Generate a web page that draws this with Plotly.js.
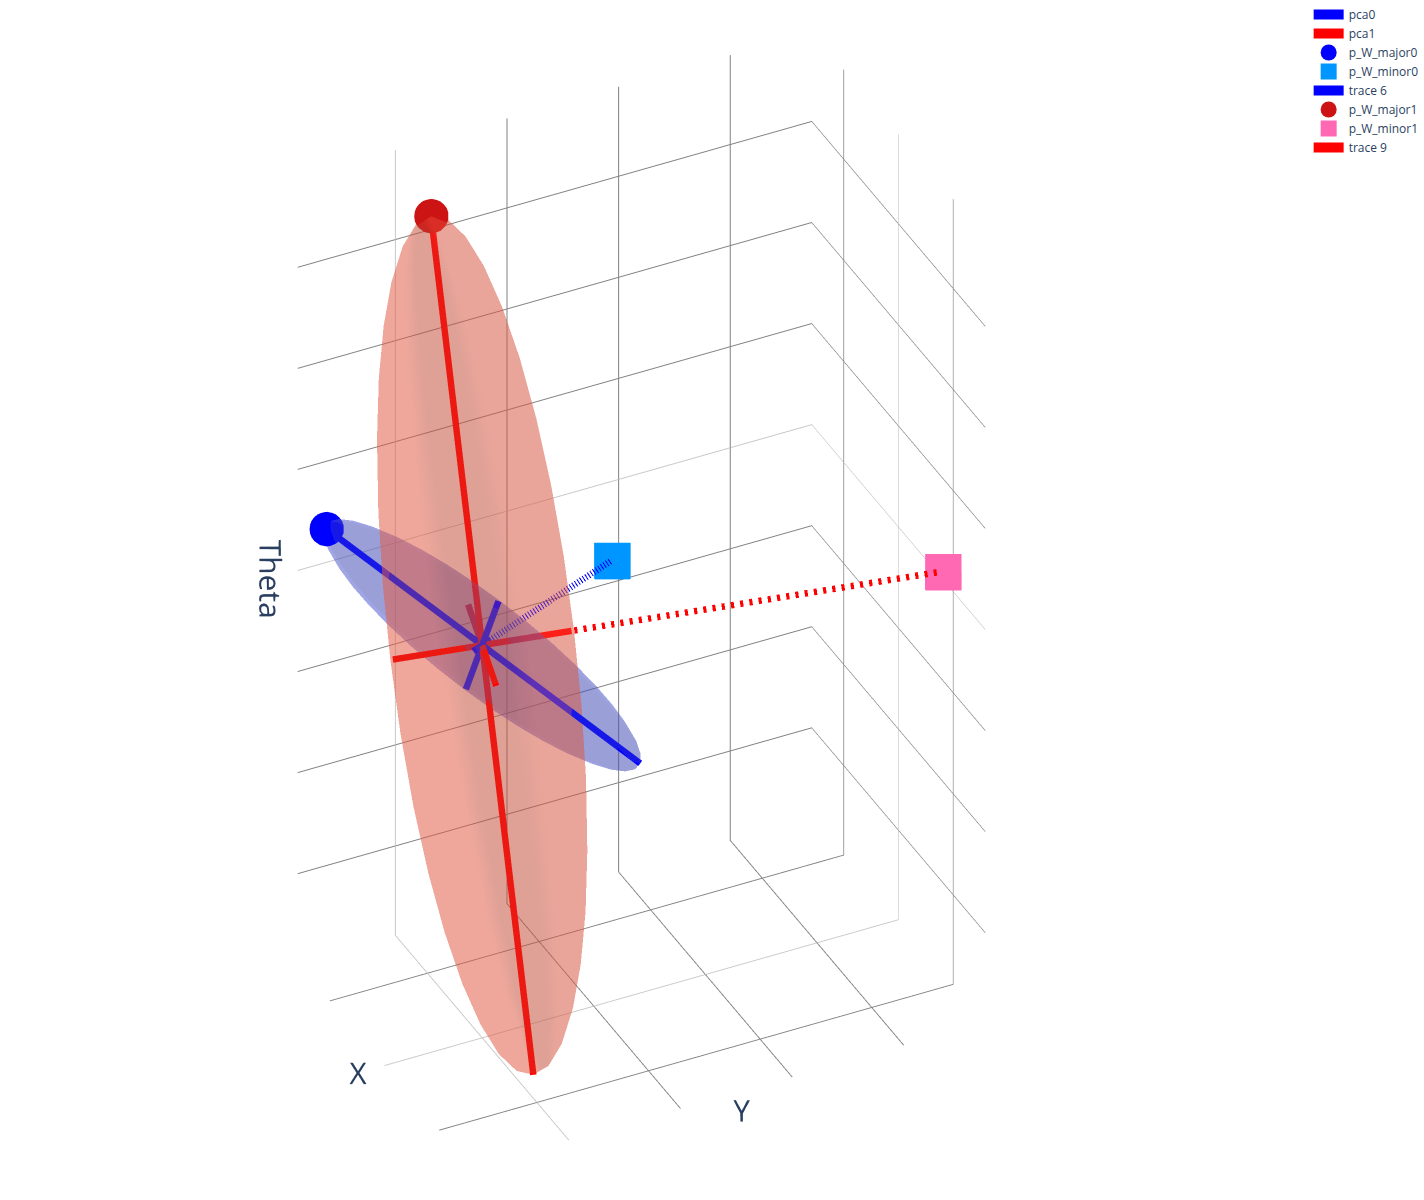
<!DOCTYPE html>
<html>
<head>
<meta charset="utf-8">
<script src="https://cdn.plot.ly/plotly-3.0.1.min.js"></script>
<style>html,body{margin:0;padding:0;background:#fff}#chart{width:1424px;height:1200px}</style>
</head>
<body>
<div id="chart"></div>
<script>
// Principal axes (x, y, theta)
const blueMajor = [-1.46, -0.70, 0.455];
const blueMajorPoint = [-1.44, -0.69, 0.45];
const blueShort = [0.10, 0.097, 0.47];
const blueMid   = [-0.055, 0.108, -0.01];
const blueMinorPoint = [-0.79, 1.55, -0.15];
const redMajor = [-1.09, 0.076, 3.53];
const redMid   = [0.228, 0.711, 0.069];
const redMidLine = [0.222, 0.692, 0.067];
const redShort = [-0.93, 0.33, -0.295];
const redMinorPoint = [1.24, 3.52, 0.42];

// Unit-sphere table used for the two ellipsoid shells
const ringA = [1,.985,.94,.866,.766,.643,.5,.342,.174,0,-.174,-.342,-.5,-.643,-.766,-.866,-.94,-.985,-1,-.985,-.94,-.866,-.766,-.643,-.5,-.342,-.174,0,.174,.342,.5,.643,.766,.866,.94,.985];
const ringB = [0,.174,.342,.5,.643,.766,.866,.94,.985,1,.985,.94,.866,.766,.643,.5,.342,.174,0,-.174,-.342,-.5,-.643,-.766,-.866,-.94,-.985,-1,-.985,-.94,-.866,-.766,-.643,-.5,-.342,-.174];
const ringHeight = [-.966,-.866,-.707,-.5,-.259,0,.259,.5,.707,.866,.966];
const ringScale  = [.259,.5,.707,.866,.966,1,.966,.866,.707,.5,.259];

const rangeX = [-1.585, 1.585];
const rangeY = [-0.875, 3.73];
const rangeZ = [-3.885, 3.885];

function shell(u, v, w, color, opacity) {
  const x = [], y = [], z = [], i = [], j = [], k = [];
  const n = ringA.length, m = ringHeight.length;
  const add = (a, b, c) => {
    x.push(a*u[0] + b*v[0] + c*w[0]);
    y.push(a*u[1] + b*v[1] + c*w[1]);
    z.push(a*u[2] + b*v[2] + c*w[2]);
  };
  for (let r = 0; r < m; r++) for (let s = 0; s < n; s++) add(ringA[s]*ringScale[r], ringB[s]*ringScale[r], ringHeight[r]);
  add(0, 0, -1); add(0, 0, 1);
  for (let r = 0; r < m-1; r++) for (let s = 0; s < n; s++) {
    const p = r*n + s, q = r*n + (s+1)%n, p2 = p + n, q2 = q + n;
    i.push(p, q); j.push(q, q2); k.push(p2, p2);
  }
  for (let s = 0; s < n; s++) {
    i.push(m*n); j.push((s+1)%n); k.push(s);
    i.push(m*n+1); j.push((m-1)*n + s); k.push((m-1)*n + (s+1)%n);
  }
  return {type:'mesh3d', x, y, z, i, j, k, color, opacity, showlegend:false, hoverinfo:'skip'};
}
function seg(pairs) {
  const o = {x:[], y:[], z:[]};
  pairs.forEach((p, n) => {
    if (n) { o.x.push(null); o.y.push(null); o.z.push(null); }
    o.x.push(p[0][0], p[1][0]); o.y.push(p[0][1], p[1][1]); o.z.push(p[0][2], p[1][2]);
  });
  return o;
}
const neg = a => a.map(v => -v);
const O = [0, 0, 0];
function line(name, pairs, color, dash, legend) {
  return Object.assign({type:'scatter3d', mode:'lines', name, showlegend:legend,
    line:{color, width:13, dash:dash||'solid'}}, seg(pairs));
}
function pt(name, p, color, symbol, size) {
  return {type:'scatter3d', mode:'markers', name, x:[p[0]], y:[p[1]], z:[p[2]],
    marker:{color, size, symbol}};
}
const data = [
  line('pca0', [[blueMajor, neg(blueMajor)]], 'blue', null, true),
  line('pca1', [[redMajor, neg(redMajor)]], 'red', null, true),
  pt('p_W_major0', blueMajorPoint, 'blue', 'circle', 20),
  pt('p_W_minor0', blueMinorPoint, '#0096ff', 'square', 19),
  shell(blueMajor, blueShort, blueMid, 'rgb(85,95,225)', 0.32),
  line('blue minor', [[O, blueMinorPoint]], 'blue', 'dash', false),
  line('trace 6', [[blueShort, neg(blueShort)], [blueMid, neg(blueMid)]], 'blue', null, true),
  pt('p_W_major1', redMajor, '#cd1414', 'circle', 20),
  pt('p_W_minor1', redMinorPoint, 'hotpink', 'square', 19),
  line('trace 9', [[redMidLine, neg(redMidLine)], [redShort, neg(redShort)]], 'red', null, true),
  line('red minor', [[O, redMinorPoint]], 'red', 'dash', false),
  shell(redMajor, redMid, redShort, 'rgb(245,99,75)', 0.32)
];
const axis = (title, range) => ({
  title:{text:title, font:{size:30, color:'#2a3f5f'}},
  range, dtick:1, tick0:0, showticklabels:false, ticks:'',
  showbackground:false, showline:false, showspikes:false,
  showgrid:true, gridcolor:'#808080', gridwidth:2,
  zeroline:true, zerolinecolor:'#c8c8c8', zerolinewidth:2
});
const layout = {
  width:1424, height:1200,
  margin:{l:0, r:0, t:0, b:0},
  paper_bgcolor:'#fff',
  font:{family:'"Open Sans", sans-serif', color:'#2a3f5f'},
  scene:{
    xaxis:axis('X', rangeX), yaxis:axis('Y', rangeY), zaxis:axis('Theta', rangeZ),
    aspectmode:'manual', aspectratio:{x:0.657, y:0.954, z:1.605},
    camera:{projection:{type:'orthographic'}, up:{x:0,y:0,z:1}, center:{x:0,y:0,z:0},
      eye:{x:0.912, y:-0.447, z:0.721}}
  }
};
Plotly.newPlot('chart', data, layout, {displayModeBar:false});
</script>
</body>
</html>
